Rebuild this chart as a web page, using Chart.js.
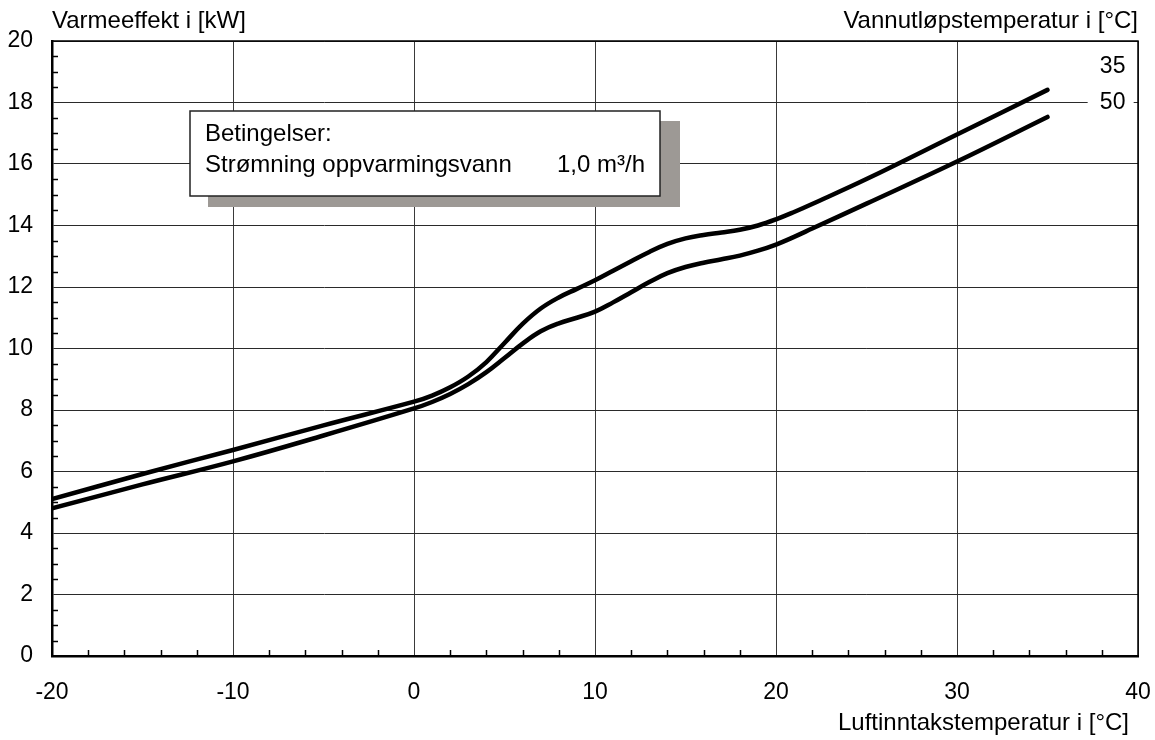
<!DOCTYPE html>
<html>
<head>
<meta charset="utf-8">
<script src="https://cdn.jsdelivr.net/npm/chart.js@4.4.1/dist/chart.umd.min.js"></script>
<style>
  body { margin: 0; background: #fff; }
  canvas { display: block; }
</style>
</head>
<body>
<canvas id="chart" width="1155" height="740"></canvas>
<script>
// Varmeeffekt vs luftinntakstemperatur

const airTemps = [-20, -15, -10, -5, 0, 1, 2, 3, 4, 5, 6, 7, 8, 9, 10, 11, 12, 13, 14, 15, 16, 17, 18, 19, 20, 21, 22, 25, 30, 35];
const outlet35 = [5.1, 5.92, 6.7, 7.5, 8.27, 8.47, 8.74, 9.09, 9.56, 10.18, 10.8, 11.3, 11.66, 11.94, 12.22, 12.53, 12.84, 13.14, 13.4, 13.58, 13.69, 13.77, 13.86, 14.0, 14.2, 14.44, 14.7, 15.51, 16.96, 18.41];
const outlet50 = [4.8, 5.58, 6.33, 7.17, 8.05, 8.26, 8.52, 8.84, 9.23, 9.69, 10.16, 10.56, 10.82, 11.0, 11.2, 11.5, 11.83, 12.16, 12.45, 12.65, 12.79, 12.9, 13.02, 13.18, 13.38, 13.63, 13.9, 14.71, 16.08, 17.53];
const seriesNames = ['35', '50'];
const xMin = -20, xMax = 40, xStep = 10, xMinorStep = 2;
const yMin = 0, yMax = 20, yStep = 2, yMinorStep = 0.5;

const FONT = '"Liberation Sans", Arial, Helvetica, sans-serif';

function toPoints(ys) {
  return airTemps.map((x, i) => ({ x: x, y: ys[i] }));
}

const decorPlugin = {
  id: 'decor',
  beforeDatasetsDraw(chart) {
    const { ctx, chartArea: a, scales: { x, y } } = chart;
    ctx.save();
    ctx.strokeStyle = '#000';
    ctx.lineWidth = 1.5;
    // minor ticks, inside the plot
    for (let v = yMin + yMinorStep; v < yMax; v += yMinorStep) {
      if (Math.abs(v / yStep - Math.round(v / yStep)) < 1e-6) continue;
      const py = Math.round(y.getPixelForValue(v)) + 0.5;
      ctx.beginPath(); ctx.moveTo(a.left, py); ctx.lineTo(a.left + 6, py); ctx.stroke();
    }
    for (let v = xMin + xMinorStep; v < xMax; v += xMinorStep) {
      if (Math.abs(v / xStep - Math.round(v / xStep)) < 1e-6) continue;
      const px = Math.round(x.getPixelForValue(v)) + 0.5;
      ctx.beginPath(); ctx.moveTo(px, a.bottom); ctx.lineTo(px, a.bottom - 6); ctx.stroke();
    }
    // frame top / right
    ctx.beginPath();
    ctx.moveTo(a.left, a.top); ctx.lineTo(a.right, a.top); ctx.lineTo(a.right, a.bottom);
    ctx.stroke();

    // conditions box
    ctx.fillStyle = '#9d9995';
    ctx.fillRect(208, 121, 472, 86);
    ctx.fillStyle = '#fff';
    ctx.fillRect(190, 111, 470, 85);
    ctx.strokeStyle = '#222';
    ctx.lineWidth = 1.5;
    ctx.strokeRect(190, 111, 470, 85);
    ctx.fillStyle = '#000';
    ctx.font = '24px ' + FONT;
    ctx.textBaseline = 'middle';
    ctx.textAlign = 'left';
    ctx.fillText('Betingelser:', 205, 134);
    ctx.fillText('Strømning oppvarmingsvann', 205, 165);
    ctx.textAlign = 'right';
    ctx.fillText('1,0 m³/h', 645, 165);

    // series labels at the right
    const lx = x.getPixelForValue(38.6);
    const ly35 = y.getPixelForValue(19.15);
    const ly50 = y.getPixelForValue(18);
    ctx.fillStyle = '#fff';
    ctx.fillRect(lx - 25, ly50 - 12, 46, 24);
    ctx.fillStyle = '#000';
    ctx.textAlign = 'center';
    ctx.font = '23px ' + FONT;
    ctx.fillText(seriesNames[0], lx, ly35);
    ctx.fillText(seriesNames[1], lx, ly50);
    ctx.restore();
  },
  afterDraw(chart) {
    const { ctx, chartArea: a } = chart;
    ctx.save();
    ctx.fillStyle = '#000';
    ctx.font = '24px ' + FONT;
    ctx.textBaseline = 'middle';
    ctx.textAlign = 'left';
    ctx.fillText('Varmeeffekt i [kW]', a.left, 21);
    ctx.textAlign = 'right';
    ctx.fillText('Vannutløpstemperatur i [°C]', a.right, 21);
    ctx.fillText('Luftinntakstemperatur i [°C]', a.right - 9, 723);
    ctx.restore();
  }
};

const lineStyle = {
  borderColor: '#000',
  borderWidth: 4.5,
  borderCapStyle: 'round',
  borderJoinStyle: 'round',
  pointRadius: 0,
  fill: false,
  tension: 0.4
};

new Chart(document.getElementById('chart'), {
  type: 'line',
  data: {
    datasets: [
      Object.assign({ label: seriesNames[0], data: toPoints(outlet35) }, lineStyle),
      Object.assign({ label: seriesNames[1], data: toPoints(outlet50) }, lineStyle)
    ]
  },
  options: {
    responsive: false,
    animation: false,
    events: [],
    layout: { padding: { left: 0, right: 17, top: 41, bottom: 0 } },
    plugins: {
      legend: { display: false },
      tooltip: { enabled: false }
    },
    scales: {
      x: {
        type: 'linear',
        min: xMin,
        max: xMax,
        afterFit: (s) => { s.height = 84; s.paddingLeft = 0; s.paddingRight = 0; },
        ticks: {
          stepSize: xStep,
          color: '#000',
          padding: 23,
          maxRotation: 0,
          font: { family: FONT, size: 23 }
        },
        grid: { color: '#3a3a3a', lineWidth: 1, drawTicks: false },
        border: { display: true, color: '#000', width: 2.5 }
      },
      y: {
        min: yMin,
        max: yMax,
        afterFit: (s) => { s.width = 52; s.paddingTop = 0; s.paddingBottom = 0; },
        ticks: {
          stepSize: yStep,
          color: '#000',
          padding: 19,
          font: { family: FONT, size: 23 }
        },
        grid: { color: '#2a2a2a', lineWidth: 1, drawTicks: false },
        border: { display: true, color: '#000', width: 2.5 }
      }
    }
  },
  plugins: [decorPlugin]
});
</script>
</body>
</html>
